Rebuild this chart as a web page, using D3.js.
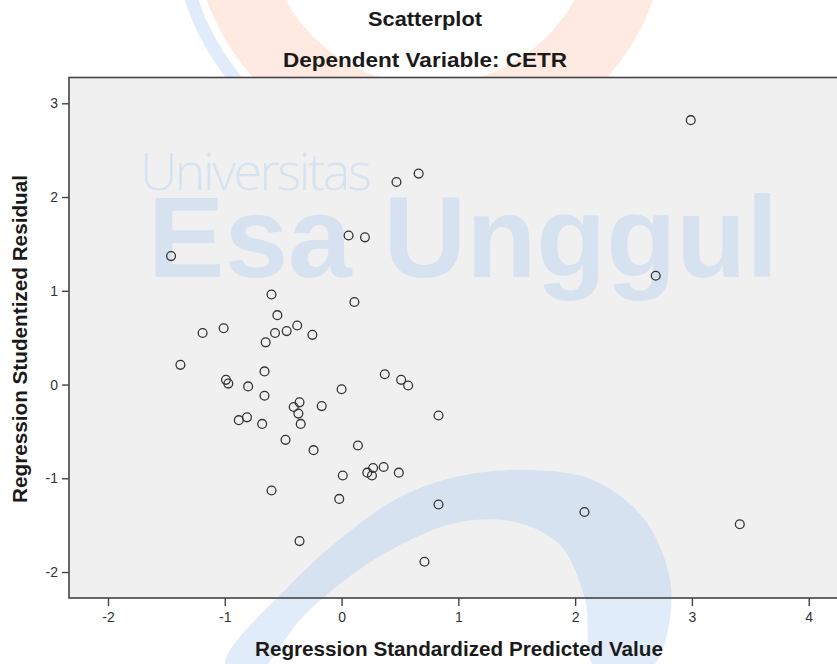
<!DOCTYPE html>
<html><head><meta charset="utf-8">
<script src="https://cdn.jsdelivr.net/npm/d3@7"></script>
<style>body{margin:0;background:#fff}svg{display:block}</style>
</head><body>
<svg id="chart" width="837" height="664"></svg>
<script>
// ---- data ----
const titleText = "Scatterplot";
const subtitleText = "Dependent Variable: CETR";
const xAxisTitle = "Regression Standardized Predicted Value";
const yAxisTitle = "Regression Studentized Residual";
const xTickValues = [-2, -1, 0, 1, 2, 3, 4];
const yTickValues = [-2, -1, 0, 1, 2, 3];
const xDomain = [-2.334, 4.345];
const yDomain = [-2.277, 3.275];
const predicted = [2.99, 0.66, 0.47, 0.06, 0.20, -1.46, 2.69, -0.60, 0.11, -0.55,
  -1.19, -1.01, -0.57, -0.47, -0.38, -0.25, -0.65, -1.38, -0.66, -0.99,
  -0.97, -0.80, -0.66, 0.00, 0.37, 0.51, 0.57, 0.83, -0.41, -0.36,
  -0.37, -0.17, -0.88, -0.81, -0.68, -0.35, -0.48, -0.24, 0.14, 0.01,
  0.22, 0.27, 0.26, 0.36, 0.49, -0.02, 0.83, 0.71, -0.60, -0.36,
  2.08, 3.41];
const residual = [2.82, 2.25, 2.16, 1.59, 1.57, 1.37, 1.16, 0.96, 0.88, 0.74,
  0.55, 0.60, 0.55, 0.57, 0.63, 0.53, 0.45, 0.21, 0.14, 0.05,
  0.01, -0.02, -0.12, -0.05, 0.11, 0.05, -0.01, -0.33, -0.24, -0.19,
  -0.31, -0.23, -0.38, -0.35, -0.42, -0.42, -0.59, -0.70, -0.65, -0.97,
  -0.94, -0.89, -0.97, -0.88, -0.94, -1.22, -1.28, -1.89, -1.13, -1.67,
  -1.36, -1.49];

// ---- layout ----
const W = 837, H = 664;
const plot = {left: 69, right: 849, top: 77.5, bottom: 598};
const svg = d3.select("#chart");
const x = d3.scaleLinear().domain(xDomain).range([plot.left, plot.right]);
const y = d3.scaleLinear().domain(yDomain).range([plot.bottom, plot.top]);
const txtFont = "'Liberation Sans', Arial, sans-serif";

svg.append("rect").attr("width", W).attr("height", H).attr("fill", "#fff");
svg.append("rect").attr("x", plot.left).attr("y", plot.top)
  .attr("width", plot.right - plot.left).attr("height", plot.bottom - plot.top)
  .attr("fill", "#f0f0f0");

// ---- watermark (decoration) ----
const defs = svg.append("defs");
defs.append("clipPath").attr("id", "topClip").append("rect")
  .attr("x", 0).attr("y", 0).attr("width", W).attr("height", plot.top);
const wm = svg.append("g");
const topG = wm.append("g").attr("clip-path", "url(#topClip)");
const ring = d3.arc().innerRadius(165).outerRadius(237).startAngle(0).endAngle(2 * Math.PI);
topG.append("path").attr("d", ring()).attr("transform", "translate(430,-80)")
  .attr("fill", "rgba(250,150,100,0.2)");
const blueArc = d3.arc().innerRadius(245).outerRadius(258)
  .startAngle(-2.4).endAngle(-1.0);
topG.append("path").attr("d", blueArc()).attr("transform", "translate(430,-80)")
  .attr("fill", "rgba(170,200,240,0.35)");
const swoosh = [[225,664],[290,585],[345,535],[400,497],[460,476],[530,470],[593,480],
  [645,520],[670,580],[668,630],[655,664],[620,690],[592,664],[585,600],[560,545],
  [515,522],[460,522],[400,545],[345,580],[300,620],[268,664],[245,690]];
wm.append("path").attr("d", d3.line().curve(d3.curveCatmullRomClosed)(swoosh))
  .attr("fill", "rgba(170,200,240,0.35)");
wm.append("text").attr("x", 140).attr("y", 190)
  .attr("font-family", "'Open Sans', sans-serif").attr("font-weight", 300)
  .attr("font-size", 52).attr("textLength", 232).attr("lengthAdjust", "spacing")
  .attr("fill", "rgba(170,200,240,0.35)").text("Universitas");
wm.append("text").attr("x", 148).attr("y", 277)
  .attr("font-family", txtFont).attr("font-weight", "bold")
  .attr("font-size", 115).attr("textLength", 630).attr("lengthAdjust", "spacingAndGlyphs")
  .attr("fill", "rgba(170,200,240,0.35)").text("Esa Unggul");

// ---- axes ----
const fmt = d => String(d);
const xAxis = svg.append("g").attr("transform", `translate(0,${plot.bottom})`)
  .call(d3.axisBottom(x).tickValues(xTickValues).tickFormat(fmt)
    .tickSize(8).tickPadding(6).tickSizeOuter(0));
const yAxis = svg.append("g").attr("transform", `translate(${plot.left},0)`)
  .call(d3.axisLeft(y).tickValues(yTickValues).tickFormat(fmt)
    .tickSize(7).tickPadding(4).tickSizeOuter(0));
[xAxis, yAxis].forEach(g => {
  g.select(".domain").remove();
  g.selectAll(".tick line").attr("stroke", "#444").attr("stroke-width", 1.4);
  g.selectAll(".tick text").attr("fill", "#333").attr("font-size", 14)
    .attr("font-family", txtFont);
});

svg.append("rect").attr("x", plot.left).attr("y", plot.top)
  .attr("width", plot.right - plot.left).attr("height", plot.bottom - plot.top)
  .attr("fill", "none").attr("stroke", "#444").attr("stroke-width", 1.6);

// ---- points ----
svg.append("g").selectAll("circle").data(predicted.map((p, i) => [p, residual[i]]))
  .join("circle")
  .attr("cx", d => x(d[0])).attr("cy", d => y(d[1])).attr("r", 4.4)
  .attr("fill", "none").attr("stroke", "#333").attr("stroke-width", 1.3);

// ---- titles ----
const T = (txt, xx, yy, len) => svg.append("text").attr("x", xx).attr("y", yy)
  .attr("font-family", txtFont).attr("font-weight", "bold").attr("font-size", 20.5)
  .attr("fill", "#1a1a1a").attr("textLength", len).attr("lengthAdjust", "spacingAndGlyphs")
  .text(txt);
T(titleText, 368, 26, 114);
T(subtitleText, 283, 67, 284);
T(xAxisTitle, 255, 656, 408);
T(yAxisTitle, 0, 0, 328).attr("transform", "translate(27,503) rotate(-90)");
</script>
</body></html>
